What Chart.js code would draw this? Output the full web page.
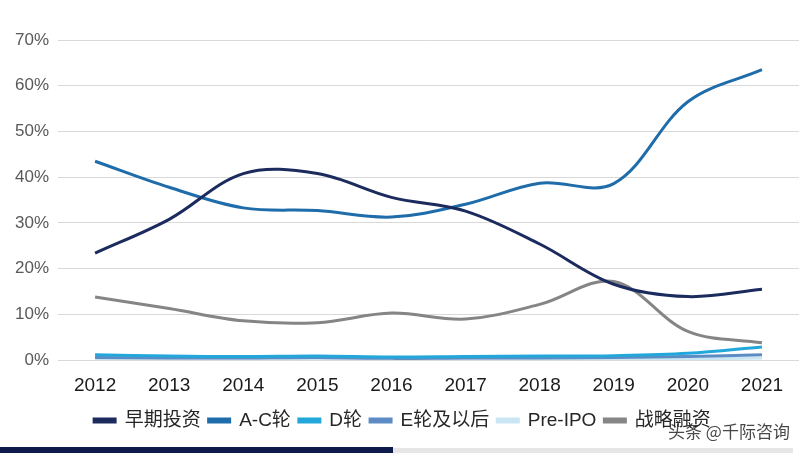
<!DOCTYPE html>
<html><head><meta charset="utf-8">
<script src="https://cdn.jsdelivr.net/npm/chart.js@4"></script>
<style>html,body{margin:0;padding:0;background:#fff;}#wrap{width:800px;height:456px;position:relative;}</style>
</head><body><div id="wrap"><canvas id="c" width="800" height="456"></canvas></div>
<script>
const years = ['2012','2013','2014','2015','2016','2017','2018','2019','2020','2021'];
const early = [23.4, 30.8, 40.8, 40.8, 35.6, 32.6, 25.4, 16.6, 13.9, 15.5];
const ac = [43.5, 37.8, 33.3, 32.7, 31.3, 34.1, 38.7, 38.6, 56.5, 63.5];
const dRound = [1.2, 0.9, 0.8, 0.9, 0.7, 0.8, 0.9, 1.0, 1.5, 2.9];
const eRound = [0.6, 0.5, 0.5, 0.6, 0.4, 0.5, 0.5, 0.6, 0.8, 1.2];
const preIpo = [0.3, 0.3, 0.2, 0.3, 0.2, 0.2, 0.2, 0.3, 0.3, 0.5];
const strategic = [13.8, 11.3, 8.6, 8.2, 10.3, 9.0, 12.2, 17.2, 6.3, 3.8];
const seriesNames = ['早期投资','A-C轮','D轮','E轮及以后','Pre-IPO','战略融资'];
const yTicks = [0,10,20,30,40,50,60,70];

const colors = ['#1c2b5e','#1f6cab','#21a7da','#5d8cc4','#c9e6f2','#858585'];
const datas = [early, ac, dRound, eRound, preIpo, strategic];
const FONT = '"Liberation Sans", Arial, "Noto Sans CJK SC", sans-serif';

const bottomPlugin = {
  id:'bottomDeco',
  afterDraw(chart){
    const ctx = chart.ctx;
    ctx.save();
    ctx.fillStyle = '#e6e6e6';
    ctx.fillRect(393, 448, 400, 5);
    ctx.fillStyle = '#0e1a4a';
    ctx.fillRect(0, 447, 393, 6);
    ctx.font = '17px "Noto Sans CJK SC", sans-serif';
    ctx.fillStyle = 'rgba(40,40,40,0.85)';
    ctx.textAlign = 'left';
    ctx.textBaseline = 'middle';
    ctx.fillText('头条 @千际咨询', 668, 432);
    ctx.restore();
  }
};

new Chart(document.getElementById('c'), {
  type:'line',
  data:{
    labels: years,
    datasets: datas.map((d,i)=>({
      label: seriesNames[i],
      data: d,
      borderColor: colors[i],
      backgroundColor: colors[i],
      borderWidth: 3,
      pointRadius: 0,
      tension: 0.35,
      fill:false
    }))
  },
  options:{
    responsive:false,
    animation:false,
    layout:{padding:{left:6,right:1,top:40,bottom:16}},
    plugins:{
      legend:{
        position:'bottom',
        labels:{
          boxWidth:21, boxHeight:3, padding:8,
          color:'#262626',
          font:{family:FONT, size:19}
        }
      },
      tooltip:{enabled:false}
    },
    scales:{
      x:{
        offset:true,
        grid:{display:false},
        border:{display:false},
        ticks:{color:'#1a1a1a', font:{family:FONT, size:19}, padding:6}
      },
      y:{
        min:0, max:70,
        afterBuildTicks(axis){ axis.ticks = yTicks.map(v=>({value:v})); },
        grid:{color:'#d9d9d9', drawTicks:false},
        border:{display:false},
        ticks:{color:'#595959', font:{family:FONT, size:17}, padding:9, callback:v=>v+'%'}
      }
    }
  },
  plugins:[bottomPlugin]
});
</script></body></html>
